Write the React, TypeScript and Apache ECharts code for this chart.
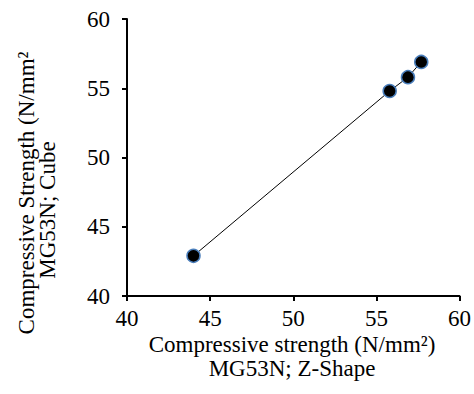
import React, { useEffect, useRef } from "react";
import * as echarts from "echarts";

const xValues = [44, 55.8, 56.9, 57.7];
const yValues = [42.9, 54.8, 55.8, 56.9];
const xTitle = ["Compressive strength (N/mm²)", "MG53N; Z-Shape"];
const yTitle = ["Compressive Strength (N/mm²", "MG53N; Cube"];

const FONT = "'Liberation Serif', 'Times New Roman', serif";

export default function App() {
  const ref = useRef<HTMLDivElement>(null);
  useEffect(() => {
    if (!ref.current) return;
    const chart = echarts.init(ref.current, undefined, { renderer: "svg" });
    const axisCommon = {
      type: "value" as const,
      min: 40,
      max: 60,
      interval: 5,
      splitLine: { show: false },
      axisLine: { show: true, lineStyle: { color: "#000", width: 2 } },
      axisTick: { show: true, inside: false, length: 5, lineStyle: { color: "#000", width: 2 } },
    };
    chart.setOption({
      animation: false,
      backgroundColor: "#fff",
      grid: { left: 127, right: 14, top: 19, bottom: 98, containLabel: false },
      xAxis: {
        ...axisCommon,
        axisLabel: { color: "#000", fontFamily: FONT, fontSize: 23, margin: 11 },
      },
      yAxis: {
        ...axisCommon,
        axisLabel: { color: "#000", fontFamily: FONT, fontSize: 23, margin: 17 },
      },
      graphic: [
        {
          type: "text",
          x: 292,
          y: 344,
          style: { text: xTitle[0], fill: "#000", font: `23px ${FONT}`, align: "center", verticalAlign: "middle" },
        },
        {
          type: "text",
          x: 292,
          y: 368,
          style: { text: xTitle[1], fill: "#000", font: `23px ${FONT}`, align: "center", verticalAlign: "middle" },
        },
        {
          type: "text",
          x: 26,
          y: 193,
          rotation: Math.PI / 2,
          style: { text: yTitle[0], fill: "#000", font: `23px ${FONT}`, align: "center", verticalAlign: "middle" },
        },
        {
          type: "text",
          x: 47,
          y: 210,
          rotation: Math.PI / 2,
          style: { text: yTitle[1], fill: "#000", font: `23px ${FONT}`, align: "center", verticalAlign: "middle" },
        },
      ],
      series: [
        {
          type: "line",
          data: xValues.map((x, i) => [x, yValues[i]]),
          symbol: "circle",
          symbolSize: 13,
          itemStyle: { color: "#000", borderColor: "#4a7ebb", borderWidth: 1.5 },
          lineStyle: { color: "#000", width: 1 },
        },
      ],
    });
    return () => chart.dispose();
  }, []);
  return <div ref={ref} style={{ position: "fixed", left: 0, top: 0, width: 474, height: 394 }} />;
}
